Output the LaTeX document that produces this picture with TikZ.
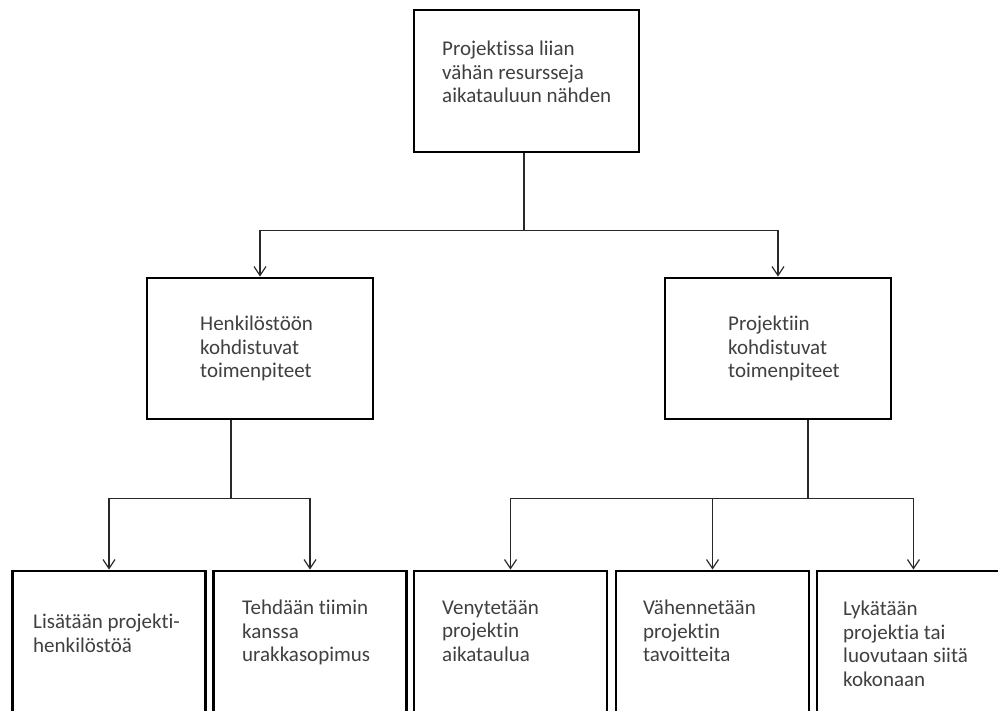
\documentclass[tikz,border=0pt]{standalone}
\usepackage{fontspec}
\setmainfont{Carlito}[Ligatures=NoCommon]
\usetikzlibrary{arrows.meta,calc}
\definecolor{ink}{RGB}{64,64,64}
\definecolor{wire}{RGB}{40,40,40}
\begin{document}
\begin{tikzpicture}[x=1pt,y=-1pt,
  box/.style={draw=black,line width=2.8pt,rectangle,inner sep=0pt,fill=white},
  midbox/.style={box,minimum width=226pt,minimum height=141pt},
  leafbox/.style={box,minimum width=193pt,minimum height=200pt},
  txt/.style={anchor=north west,inner sep=0pt,align=left,text=ink,
    font=\fontsize{21}{23.5}\selectfont},
  plain/.style={draw=wire,line width=1.2pt},
  link/.style={plain,-{Straight Barb[length=9pt,width=12pt]}}]
\clip (0,0) rectangle (998,711);
\fill[white] (0,0) rectangle (998,711);

% boxes
\node[box,minimum width=225pt,minimum height=142pt] (top) at (526.5,81) {};
\node[midbox] (midL) at (260,348.5) {};
\node[midbox] (midR) at (778,348.5) {};
\node[leafbox] (b1) at (109,671) {};
\node[leafbox] (b2) at (310,671) {};
\node[leafbox] (b3) at (510.5,671) {};
\node[leafbox] (b4) at (712.5,671) {};
\node[leafbox] (b5) at (913.5,671) {};

% texts
\node[txt] (topT) at (442,41) {Projektissa liian\\vähän resursseja\\aikatauluun nähden};
\node[txt] (midLT) at (200,316) {Henkilöstöön\\kohdistuvat\\toimenpiteet};
\node[txt] (midRT) at (728,316) {Projektiin\\kohdistuvat\\toimenpiteet};
\node[txt] (b1T) at (33,614) {Lisätään projekti-\\henkilöstöä};
\node[txt] (b2T) at (242,600) {Tehdään tiimin\\kanssa\\urakkasopimus};
\node[txt] (b3T) at (442,600) {Venytetään\\projektin\\aikataulua};
\node[txt] (b4T) at (643,600) {Vähennetään\\projektin\\tavoitteita};
\node[txt] (b5T) at (843,601) {Lykätään\\projektia tai\\luovutaan siitä\\kokonaan};

% connectors: top level
\coordinate (t0) at ($(top.south)+(-2.5,0)$);
\coordinate (j1) at ($(t0)+(0,77)$);
\draw[plain] (t0) -- (j1);
\draw[link] (j1) -| (midL.north);
\draw[link] (j1) -| (midR.north);

% connectors: left branch
\coordinate (l0) at ($(midL.south)+(-29,0)$);
\coordinate (j2) at ($(l0)+(0,78)$);
\draw[plain] (l0) -- (j2);
\draw[link] (j2) -| (b1.north);
\draw[link] (j2) -| (b2.north);

% connectors: right branch
\coordinate (r0) at ($(midR.south)+(30,0)$);
\coordinate (j3) at ($(r0)+(0,78)$);
\draw[plain] (r0) -- (j3);
\draw[link] (j3) -| (b3.north);
\draw[link] (j3) -| (b4.north);
\draw[link] (j3) -| (b5.north);
\end{tikzpicture}
\end{document}
